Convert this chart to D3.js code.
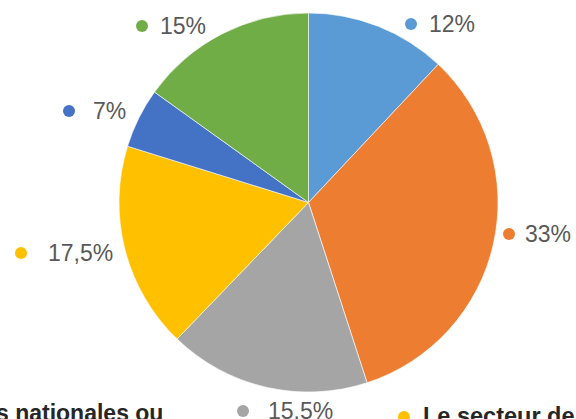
<!DOCTYPE html>
<html><head><meta charset="utf-8">
<script src="https://cdn.jsdelivr.net/npm/d3@7"></script>
<style>html,body{margin:0;padding:0;background:#fff;overflow:hidden}</style>
</head><body>
<svg id="c" width="576" height="419"></svg>
<script>
const categories = ["A", "B", "C", "D", "E", "F"];
const values = [12, 33, 17.2, 17.6, 5.1, 15.1];
const labels = ["12%", "33%", "15.5%", "17,5%", "7%", "15%"];
const colors = ["#5B9BD5", "#ED7D31", "#A5A5A5", "#FFC000", "#4472C4", "#70AD47"];
const labelPos = [[411, 24, 18], [509, 234, 16], [243, 411, 25], [21, 253, 27], [69, 111, 24], [142, 26, 18]];
const legendTexts = ["s nationales ou", "Le secteur de"];

const svg = d3.select("#c");
const cx = 308.5, cy = 202.5, R = 189.5;
const pie = d3.pie().sort(null).value(d => d)(values);
const arc = d3.arc().innerRadius(0).outerRadius(R);
const g = svg.append("g").attr("transform", `translate(${cx},${cy})`);
g.selectAll("path").data(pie).join("path")
  .attr("d", arc).attr("fill", (d, i) => colors[i])
  .attr("stroke", "#fff").attr("stroke-width", 0.6);

const lab = svg.append("g");
labels.forEach((t, i) => {
  const [x, y, dx] = labelPos[i];
  lab.append("circle").attr("cx", x).attr("cy", y).attr("r", 6).attr("fill", colors[i]);
  lab.append("text").attr("x", x + dx).attr("y", y + 8)
    .attr("font-family", "Liberation Sans, Arial, sans-serif")
    .attr("font-size", 23).attr("fill", "#595959").text(t);
});

// legend (cut off at the bottom)
svg.append("text").attr("x", -4).attr("y", 421)
  .attr("font-family", "Liberation Sans, Arial, sans-serif")
  .attr("font-weight", "bold").attr("font-size", 23).attr("fill", "#262626")
  .text(legendTexts[0]);
svg.append("circle").attr("cx", 404).attr("cy", 417).attr("r", 6).attr("fill", colors[3]);
svg.append("text").attr("x", 423).attr("y", 424)
  .attr("font-family", "Liberation Sans, Arial, sans-serif")
  .attr("font-weight", "bold").attr("font-size", 23.5).attr("fill", "#262626")
  .text(legendTexts[1]);
</script>
</body></html>
